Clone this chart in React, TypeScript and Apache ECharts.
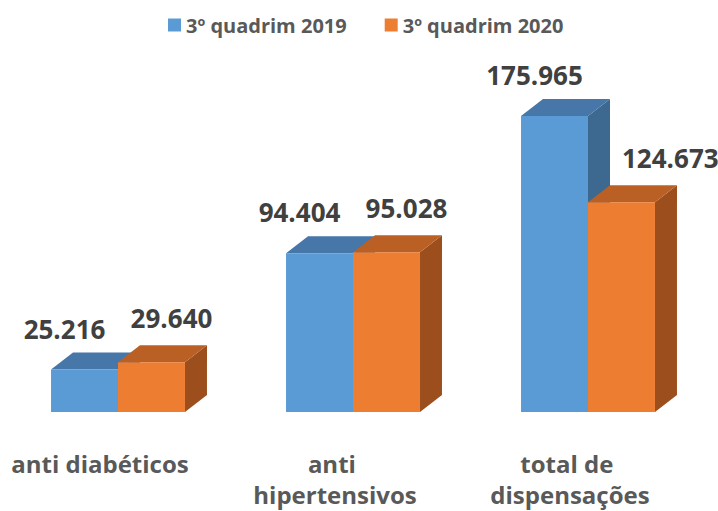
import React, { useEffect, useRef } from "react";
import * as echarts from "echarts";

const categories = ["anti diabéticos", "anti hipertensivos", "total de dispensações"];
const seriesNames = ["3º quadrim 2019", "3º quadrim 2020"];
const values2019 = [25216, 94404, 175965];
const values2020 = [29640, 95028, 124673];

const FONT = "'Open Sans', 'Noto Sans', sans-serif";
const COLORS = [
  { front: "#5B9BD5", top: "#4677A8", side: "#3D6890" },
  { front: "#ED7D31", top: "#BA6024", side: "#9C4F1C" },
];
const DX = 22;
const DY = 17;

function fmt(v: number): string {
  return v.toLocaleString("de-DE");
}

export default function App() {
  const ref = useRef<HTMLDivElement>(null);
  useEffect(() => {
    if (!ref.current) return;
    const chart = echarts.init(ref.current, null, { renderer: "svg" });
    const allValues = [values2019, values2020];

    const makeRender = (si: number) => (params: any, api: any) => {
      const cat = api.value(0);
      const val = api.value(1);
      const base = api.coord([cat, 0]);
      const top = api.coord([cat, val]);
      const band = api.size([1, 0])[0];
      const w = band * 0.285;
      const cx = base[0];
      const x0 = si === 0 ? cx - w : cx;
      const yt = top[1];
      const yb = base[1];
      const c = COLORS[si];
      let lx: number;
      let ly: number;
      let align = "center";
      if (si === 0) {
        lx = x0 + w / 2 - 20;
        ly = yt - 41;
      } else {
        ly = yt - 44;
        if (values2019[cat] > values2020[cat]) {
          lx = cx + DX + 12;
          align = "left";
        } else {
          lx = x0 + w / 2 + 20;
        }
      }
      return {
        type: "group",
        children: [
          {
            type: "polygon",
            shape: {
              points: [
                [x0 + w, yt],
                [x0 + w + DX, yt - DY],
                [x0 + w + DX, yb - DY],
                [x0 + w, yb],
              ],
            },
            style: { fill: c.side },
          },
          {
            type: "polygon",
            shape: {
              points: [
                [x0, yt],
                [x0 + w, yt],
                [x0 + w + DX, yt - DY],
                [x0 + DX, yt - DY],
              ],
            },
            style: { fill: c.top },
          },
          {
            type: "rect",
            shape: { x: x0, y: yt, width: w, height: yb - yt },
            style: { fill: c.front },
          },
          {
            type: "text",
            x: lx,
            y: ly,
            style: {
              text: fmt(allValues[si][cat]),
              fill: "#404040",
              fontSize: 26,
              fontWeight: "bold",
              fontFamily: FONT,
              align,
              verticalAlign: "middle",
            },
          },
        ],
      };
    };

    chart.setOption({
      animation: false,
      legend: {
        data: seriesNames.map((n) => ({ name: n, icon: "rect" })),
        left: 163,
        top: 10,
        itemWidth: 13,
        itemHeight: 13,
        itemGap: 38,
        textStyle: { fontSize: 20, fontWeight: "bold", color: "#595959", fontFamily: FONT },
      },
      grid: { left: 0.5, right: 12.5, top: 75.6, bottom: 99, outerBoundsMode: "none", containLabel: false },
      xAxis: {
        type: "category",
        data: categories,
        axisLine: { show: false },
        axisTick: { show: false },
        splitLine: { show: false },
        axisLabel: {
          interval: 0,
          margin: 36,
          fontSize: 24,
          fontWeight: "bold",
          color: "#595959",
          fontFamily: FONT,
          width: 200,
          overflow: "break",
          lineHeight: 31,
          padding: [0, 36, 0, 0],
        },
      },
      yAxis: { type: "value", min: 0, max: 200000, show: false, splitLine: { show: false } },
      series: [values2019, values2020].map((vals, si) => ({
        type: "custom",
        name: seriesNames[si],
        itemStyle: { color: COLORS[si].front },
        encode: { x: 0, y: 1 },
        data: vals.map((v, i) => [i, v]),
        renderItem: makeRender(si),
      })),
    });
    return () => chart.dispose();
  }, []);
  return (
    <div
      ref={ref}
      style={{ position: "absolute", left: 0, top: 0, width: 718, height: 511, background: "#fff" }}
    />
  );
}
